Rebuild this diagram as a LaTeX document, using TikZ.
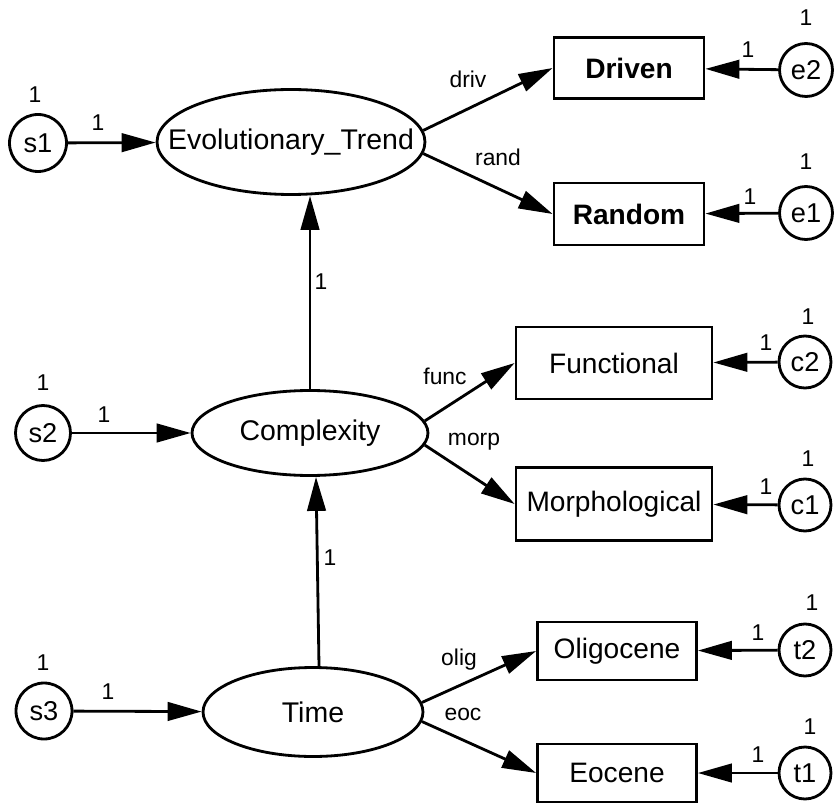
\documentclass[tikz,border=0pt]{standalone}
\usepackage{fontspec}
\setmainfont{Liberation Sans}
\usetikzlibrary{arrows.meta,shapes.geometric}
\begin{document}
\begin{tikzpicture}[x=0.02cm,y=-0.02cm,line width=1.6pt,
  latent/.style={draw,ellipse,inner sep=0pt,font=\fontsize{16.2}{18}\selectfont},
  observed/.style={draw,rectangle,inner sep=0pt,font=\fontsize{16}{18}\selectfont},
  errvar/.style={draw,circle,inner sep=0pt,font=\fontsize{15.5}{17}\selectfont},
  num/.style={inner sep=0pt,font=\fontsize{13}{15}\selectfont},
  path/.style={-{Triangle[length=6.8mm,width=3.7mm]}}]
\useasboundingbox (0,0) rectangle (834,803);
\node[latent,inner xsep=-1.2cm,minimum width=5.36cm,minimum height=2.1cm] (et) at (291,142) {Evolutionary\_Trend};
\node[latent,minimum width=4.72cm,minimum height=1.7cm] (cplx) at (310,433) {Complexity};
\node[latent,minimum width=4.4cm,minimum height=1.78cm] (time) at (313,712) {Time};
\node[errvar,minimum size=1.14cm] (s1) at (38,143) {s1};
\node[errvar,minimum size=1.1cm] (s2) at (43,433) {s2};
\node[errvar,minimum size=1.12cm] (s3) at (44,711) {s3};
\node[observed,minimum width=3cm,minimum height=1.22cm] (driven) at (629,68) {\bfseries Driven};
\node[observed,minimum width=3cm,minimum height=1.24cm] (random) at (629,214) {\bfseries Random};
\node[observed,minimum width=3.92cm,minimum height=1.44cm] (func) at (614,363) {Functional};
\node[observed,minimum width=3.92cm,minimum height=1.46cm] (morph) at (614,504) {Morphological};
\node[observed,minimum width=3.18cm,minimum height=1.16cm] (olig) at (617,651) {Oligocene};
\node[observed,minimum width=3.18cm,minimum height=1.16cm] (eoc) at (617,773) {Eocene};
\node[errvar,minimum size=1.06cm] (e2) at (806,70) {e2};
\node[errvar,minimum size=1.06cm] (e1) at (806,213) {e1};
\node[errvar,minimum size=1.04cm] (c2) at (805,362) {c2};
\node[errvar,minimum size=1.04cm] (c1) at (805,505) {c1};
\node[errvar,minimum size=1.04cm] (t2) at (805,650) {t2};
\node[errvar,minimum size=1.04cm] (t1) at (805,773) {t1};
% paths
\draw[path] (s1) -- (et);
\draw[path] (s2) -- (cplx);
\draw[path] (s3) -- (time);
\draw[path] (cplx.north) -- (cplx.north |- et.south);
\draw[path] ([xshift=0.12cm]time.north) -- ([xshift=0.12cm]cplx.south);
\draw[path] (et.5) -- (driven.west);
\draw[path] (et.-5) -- (random.west);
\draw[path] (cplx.6) -- (func.west);
\draw[path] (cplx.-6) -- (morph.west);
\draw[path] (time.5) -- (olig.west);
\draw[path] (time.-5) -- (eoc.west);
\draw[path] (e2) -- (driven);
\draw[path] (e1) -- (random);
\draw[path] (c2) -- (func);
\draw[path] (c1) -- (morph);
\draw[path] (t2) -- (olig);
\draw[path] (t1) -- (eoc);
% variances and weights
\node[num] (s1v) at (35,95) {1};
\node[num] (s1w) at (98,123) {1};
\node[num] (s2v) at (43,383) {1};
\node[num] (s2w) at (104,415) {1};
\node[num] (s3v) at (43,663) {1};
\node[num] (s3w) at (108,692) {1};
\node[num] (e2v) at (806,18) {1};
\node[num] (e2w) at (748,50) {1};
\node[num] (e1v) at (806,162) {1};
\node[num] (e1w) at (750,197) {1};
\node[num] (c2v) at (808,317) {1};
\node[num] (c2w) at (766,343) {1};
\node[num] (c1v) at (808,459) {1};
\node[num] (c1w) at (766,487) {1};
\node[num] (t2v) at (812,603) {1};
\node[num] (t2w) at (758,633) {1};
\node[num] (t1v) at (810,727) {1};
\node[num] (t1w) at (758,755) {1};
\node[num] (cetw) at (321,282) {1};
\node[num] (tcw) at (330,558) {1};
\node[num] (driv) at (468,79) {driv};
\node[num] (rand) at (498,157) {rand};
\node[num] (funcl) at (445,376) {func};
\node[num] (morpl) at (474,442) {morp};
\node[num] (oligl) at (459,660) {olig};
\node[num] (eocl) at (463,714) {eoc};
\end{tikzpicture}
\end{document}
